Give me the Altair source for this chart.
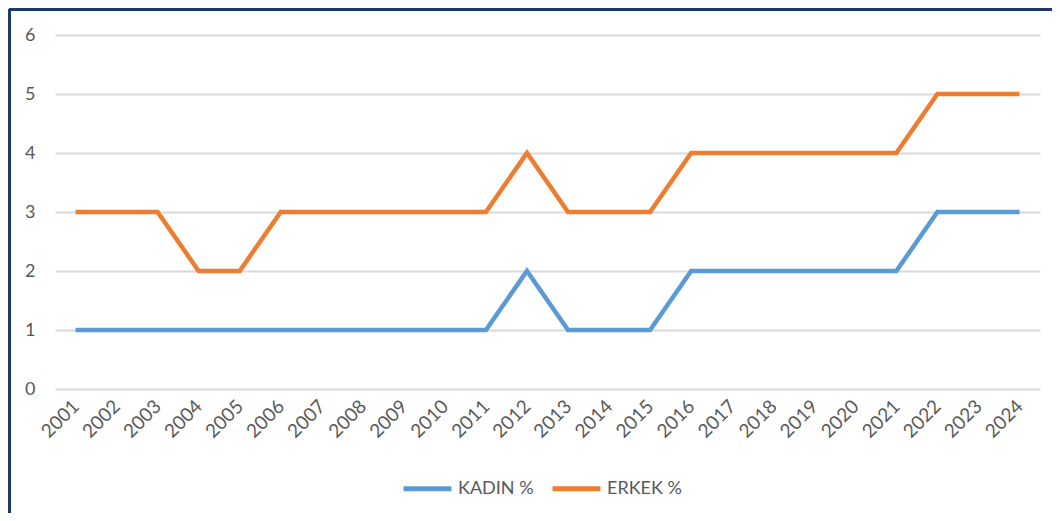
import altair as alt
import pandas as pd

years = [str(y) for y in range(2001, 2025)]
kadin = [1, 1, 1, 1, 1, 1, 1, 1, 1, 1, 1, 2, 1, 1, 1, 2, 2, 2, 2, 2, 2, 3, 3, 3]
erkek = [3, 3, 3, 2, 2, 3, 3, 3, 3, 3, 3, 4, 3, 3, 3, 4, 4, 4, 4, 4, 4, 5, 5, 5]
series = ["KADIN %", "ERKEK %"]
colors = ["#5B9BD5", "#ED7D31"]

rows = []
for name, vals in zip(series, [kadin, erkek]):
    for y, v in zip(years, vals):
        rows.append({"Yıl": y, "Değer": v, "Seri": name})
df = pd.DataFrame(rows)

FONT = "Lato"
TXT = "#595959"

lines = alt.Chart(df).mark_line(strokeWidth=4.5, strokeJoin="miter").encode(
    x=alt.X("Yıl:O", sort=years, title=None,
            axis=alt.Axis(labelAngle=-45, labelAlign="right", labelBaseline="middle",
                          domain=False, ticks=False, grid=False, labelPadding=14,
                          labelFontSize=19, labelColor=TXT, labelFont=FONT)),
    y=alt.Y("Değer:Q", title=None,
            scale=alt.Scale(domain=[0, 6], nice=False),
            axis=alt.Axis(values=[0, 1, 2, 3, 4, 5, 6], domain=False, ticks=False,
                          gridColor="#D9D9D9", gridWidth=2, labelPadding=20,
                          labelFontSize=18, labelColor=TXT, labelFont=FONT)),
    color=alt.Color("Seri:N", scale=alt.Scale(domain=series, range=colors), title=None,
                    legend=alt.Legend(orient="none", legendX=346, legendY=427,
                                      direction="horizontal", symbolType="stroke",
                                      symbolSize=2300, symbolStrokeWidth=5,
                                      labelFontSize=18, labelColor=TXT, labelFont=FONT,
                                      labelOffset=4, columnPadding=8)),
)

border_top = alt.Chart(df).mark_rule(color="#1F3864", strokeWidth=2.5, clip=False).encode(
    x=alt.value(-46), x2=alt.value(1000), y=alt.value(-26)
)
border_left = alt.Chart(df).mark_rule(color="#1F3864", strokeWidth=2.5, clip=False).encode(
    x=alt.value(-46), y=alt.value(-26), y2=alt.value(480)
)

chart = alt.layer(border_top, border_left, lines).properties(
    width=985, height=354, autosize=alt.AutoSizeParams(type="none"),
    padding={"left": 47, "top": 27, "right": 12, "bottom": 124}
).configure_view(stroke=None)

chart.save("out.html", embed_options={"renderer": "svg", "actions": False})
